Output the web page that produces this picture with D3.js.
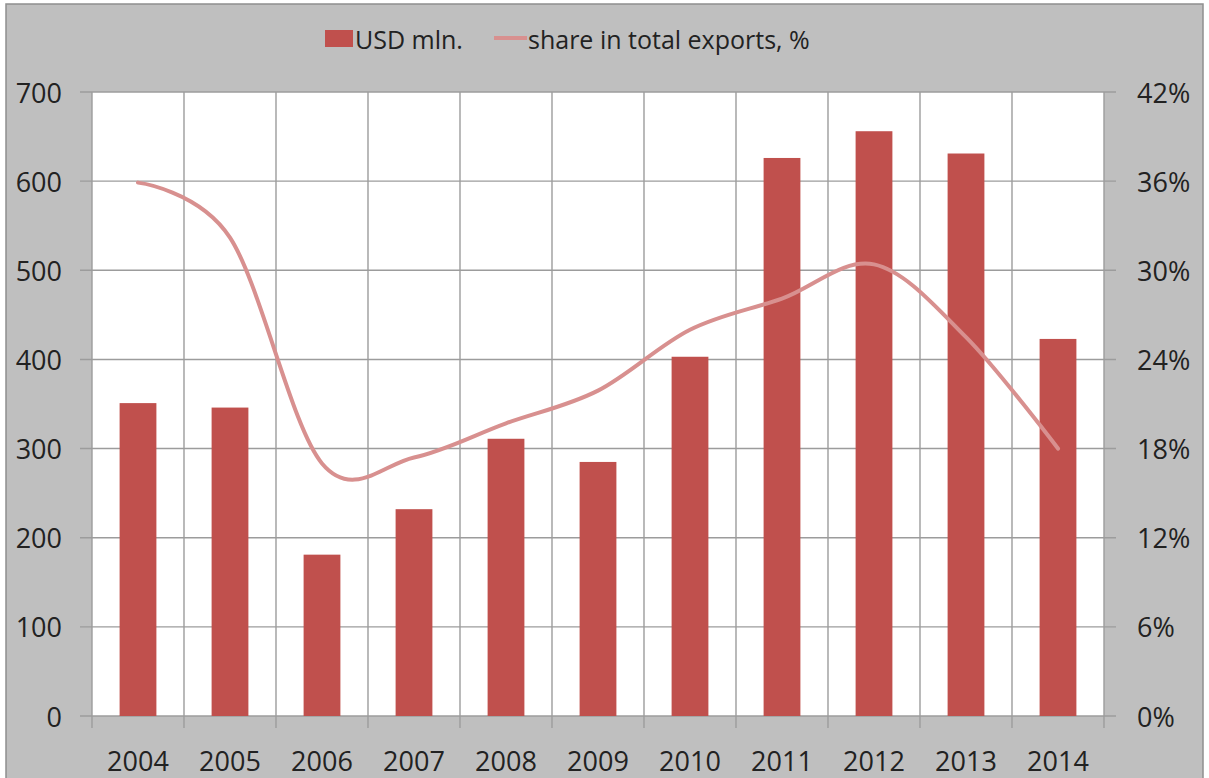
<!DOCTYPE html>
<html>
<head>
<meta charset="utf-8">
<script src="https://cdn.jsdelivr.net/npm/d3@7"></script>
<style>
  body { margin: 0; background: #fff; }
  svg { display: block; }
</style>
</head>
<body>
<div id="chart"></div>
<script>
const years = ["2004", "2005", "2006", "2007", "2008", "2009", "2010", "2011", "2012", "2013", "2014"];
const usdMln = [351, 346, 181, 232, 311, 285, 403, 626, 656, 631, 423];
const sharePct = [35.9, 32.2, 17.0, 17.4, 19.7, 21.9, 26.0, 28.1, 30.4, 25.5, 18.0];
const leftTicks = [0, 100, 200, 300, 400, 500, 600, 700];
const rightTicks = [0, 6, 12, 18, 24, 30, 36, 42];

const W = 1209, H = 778;
const margin = {top: 92, right: 105, bottom: 62, left: 92};
const visWidth = W - margin.left - margin.right;
const visHeight = H - margin.top - margin.bottom;

const svg = d3.select("#chart").append("svg")
    .attr("width", W)
    .attr("height", H)
    .attr("font-family", "'Open Sans', sans-serif");

// chart background
svg.append("rect")
    .attr("x", 6).attr("y", 4)
    .attr("width", 1197).attr("height", 790)
    .attr("fill", "#bfbfbf")
    .attr("stroke", "#8f8f8f")
    .attr("stroke-width", 1.5);

const g = svg.append("g")
    .attr("transform", `translate(${margin.left}, ${margin.top})`);

g.append("rect")
    .attr("width", visWidth)
    .attr("height", visHeight)
    .attr("fill", "#fff");

// scales
const x = d3.scaleBand()
    .domain(years)
    .range([0, visWidth])
    .paddingInner(0.6)
    .paddingOuter(0.3);

const xb = d3.scaleBand().domain(years).range([0, visWidth]);

const y = d3.scaleLinear().domain([0, 700]).range([visHeight, 0]);
const y2 = d3.scaleLinear().domain([0, 42]).range([visHeight, 0]);

const gridColor = "#9c9c9c";

// horizontal grid + left ticks
g.append("g")
  .selectAll("line")
  .data(leftTicks)
  .join("line")
    .attr("x1", -12)
    .attr("x2", visWidth + 12)
    .attr("y1", d => y(d))
    .attr("y2", d => y(d))
    .attr("stroke", gridColor)
    .attr("stroke-width", 1.4);

// vertical grid at category boundaries
const bounds = years.map(d => xb(d)).concat([visWidth]);
g.append("g")
  .selectAll("line")
  .data(bounds)
  .join("line")
    .attr("x1", d => d)
    .attr("x2", d => d)
    .attr("y1", 0)
    .attr("y2", visHeight + 12)
    .attr("stroke", gridColor)
    .attr("stroke-width", 1.4);

// bars
g.selectAll("rect.bar")
  .data(years)
  .join("rect")
    .attr("class", "bar")
    .attr("x", d => x(d))
    .attr("y", (d, i) => y(usdMln[i]))
    .attr("width", x.bandwidth())
    .attr("height", (d, i) => visHeight - y(usdMln[i]))
    .attr("fill", "#c0504d");

// share line
const line = d3.line()
    .x((d, i) => xb(years[i]) + xb.bandwidth() / 2)
    .y(d => y2(d))
    .curve(d3.curveCardinal.tension(0));

g.append("path")
    .datum(sharePct)
    .attr("d", line)
    .attr("fill", "none")
    .attr("stroke", "#d8908f")
    .attr("stroke-width", 4)
    .attr("stroke-linecap", "round");

// axis labels
g.append("g")
    .attr("font-size", 27)
  .selectAll("text")
  .data(leftTicks)
  .join("text")
    .attr("x", -30)
    .attr("y", d => y(d))
    .attr("text-anchor", "end")
    .attr("dominant-baseline", "central")
    .attr("fill", "#222")
    .text(d => d);

g.append("g")
    .attr("font-size", 27)
  .selectAll("text")
  .data(rightTicks)
  .join("text")
    .attr("x", visWidth + 33)
    .attr("y", d => y2(d))
    .attr("dominant-baseline", "central")
    .attr("fill", "#222")
    .text(d => d + "%");

g.append("g")
    .attr("font-size", 27)
  .selectAll("text")
  .data(years)
  .join("text")
    .attr("x", d => xb(d) + xb.bandwidth() / 2)
    .attr("y", visHeight + 44)
    .attr("text-anchor", "middle")
    .attr("dominant-baseline", "central")
    .attr("fill", "#222")
    .text(d => d);

// legend
const legend = svg.append("g").attr("font-size", 25).attr("fill", "#222");
legend.append("rect")
    .attr("x", 325).attr("y", 30)
    .attr("width", 28).attr("height", 17)
    .attr("fill", "#c0504d");
legend.append("text")
    .attr("x", 355).attr("y", 39)
    .attr("dominant-baseline", "central")
    .text("USD mln.");
legend.append("line")
    .attr("x1", 494).attr("x2", 527)
    .attr("y1", 38).attr("y2", 38)
    .attr("stroke", "#d8908f")
    .attr("stroke-width", 4);
legend.append("text")
    .attr("x", 528).attr("y", 39)
    .attr("dominant-baseline", "central")
    .text("share in total exports, %");
</script>
</body>
</html>
